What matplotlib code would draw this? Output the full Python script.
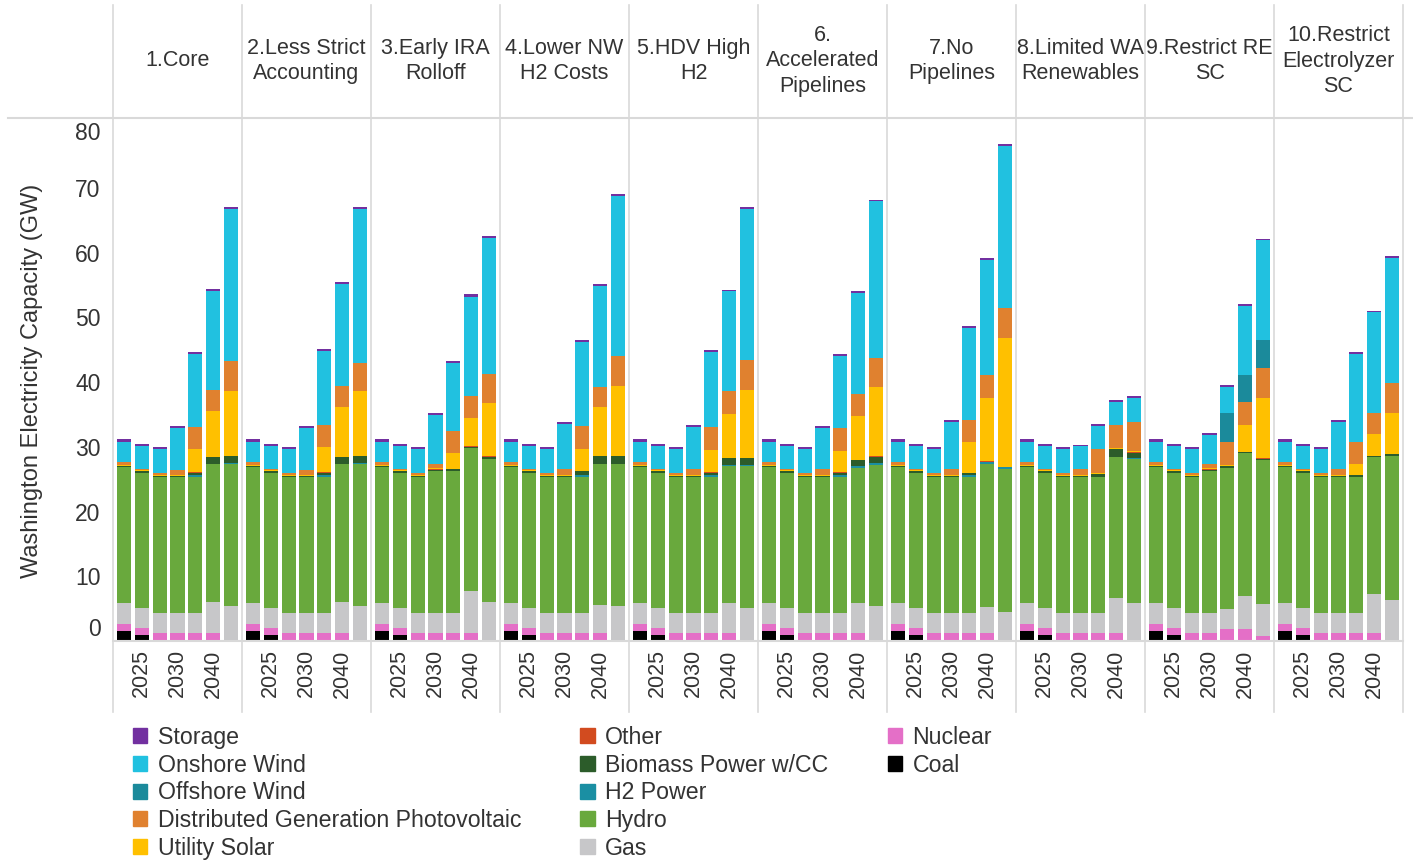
import matplotlib
matplotlib.use('Agg')
import matplotlib.pyplot as plt
from matplotlib.patches import Rectangle
from matplotlib.lines import Line2D
from matplotlib.transforms import ScaledTranslation
import numpy as np

plt.rcParams['font.family'] = ['Liberation Sans', 'DejaVu Sans']

scenarios = ['1.Core', '2.Less Strict\nAccounting', '3.Early IRA\nRolloff', '4.Lower NW\nH2 Costs',
             '5.HDV High\nH2', '6.\nAccelerated\nPipelines', '7.No\nPipelines',
             '8.Limited WA\nRenewables', '9.Restrict RE\nSC', '10.Restrict\nElectrolyzer\nSC']
year_labels = ['', '2025', '', '2030', '', '2040', '']

# capacity in GW, one row per scenario, one value per year (bottom of stack first)
coal = [
    [1.5, 0.9, 0, 0, 0, 0, 0],
    [1.5, 0.9, 0, 0, 0, 0, 0],
    [1.5, 0.9, 0, 0, 0, 0, 0],
    [1.5, 0.9, 0, 0, 0, 0, 0],
    [1.5, 0.9, 0, 0, 0, 0, 0],
    [1.5, 0.9, 0, 0, 0, 0, 0],
    [1.5, 0.9, 0, 0, 0, 0, 0],
    [1.5, 0.9, 0, 0, 0, 0, 0],
    [1.5, 0.9, 0, 0, 0, 0, 0],
    [1.5, 0.9, 0, 0, 0, 0, 0],
]
nuclear = [
    [1.1, 1.1, 1.3, 1.3, 1.3, 1.3, 0],
    [1.1, 1.1, 1.3, 1.3, 1.3, 1.3, 0],
    [1.1, 1.1, 1.3, 1.3, 1.3, 1.3, 0],
    [1.1, 1.1, 1.3, 1.3, 1.3, 1.3, 0],
    [1.1, 1.1, 1.3, 1.3, 1.3, 1.3, 0],
    [1.1, 1.1, 1.3, 1.3, 1.3, 1.3, 0],
    [1.1, 1.1, 1.3, 1.3, 1.3, 1.3, 0],
    [1.1, 1.1, 1.3, 1.3, 1.3, 1.3, 0],
    [1.1, 1.1, 1.3, 1.3, 1.8, 1.8, 0.8],
    [1.1, 1.1, 1.3, 1.3, 1.3, 1.3, 0],
]
gas = [
    [3.3, 3.05, 3.1, 3.1, 3.1, 4.8, 5.4],
    [3.3, 3.05, 3.1, 3.1, 3.1, 4.8, 5.4],
    [3.3, 3.05, 3.1, 3.1, 3.1, 6.4, 6.1],
    [3.3, 3.05, 3.1, 3.1, 3.1, 4.3, 5.4],
    [3.3, 3.05, 3.1, 3.1, 3.1, 4.6, 5.05],
    [3.3, 3.05, 3.1, 3.1, 3.1, 4.5, 5.4],
    [3.3, 3.05, 3.1, 3.1, 3.1, 4.0, 4.5],
    [3.3, 3.05, 3.1, 3.1, 3.1, 5.4, 5.9],
    [3.3, 3.05, 3.1, 3.1, 3.1, 5.2, 4.9],
    [3.3, 3.05, 3.1, 3.1, 3.1, 6.0, 6.3],
]
hydro = [
    [21.0, 20.85, 21.0, 21.0, 21.0, 21.2, 22.0],
    [21.0, 20.85, 21.0, 21.0, 21.0, 21.2, 22.0],
    [21.0, 20.85, 21.0, 21.9, 21.9, 22.1, 22.0],
    [21.0, 20.85, 21.0, 21.0, 21.0, 21.7, 21.9],
    [21.0, 20.85, 21.0, 21.0, 21.0, 21.2, 22.05],
    [21.0, 20.85, 21.0, 21.0, 21.0, 21.0, 21.8],
    [21.0, 20.85, 21.0, 21.0, 21.0, 22.0, 22.0],
    [21.0, 20.85, 21.0, 21.0, 21.0, 21.8, 22.2],
    [21.0, 20.85, 21.0, 21.9, 21.9, 22.0, 22.2],
    [21.0, 20.85, 21.0, 21.0, 21.0, 21.1, 22.3],
]
h2_power = [
    [0, 0, 0, 0, 0.2, 0.1, 0.1],
    [0, 0, 0, 0, 0.2, 0.1, 0.1],
    [0, 0, 0, 0, 0, 0, 0],
    [0, 0, 0, 0, 0.2, 0.1, 0.1],
    [0, 0, 0, 0, 0.2, 0.1, 0.1],
    [0, 0, 0, 0, 0.2, 0.3, 0.25],
    [0, 0, 0, 0, 0.3, 0.4, 0.4],
    [0, 0, 0, 0, 0, 0, 0.2],
    [0, 0, 0, 0, 0, 0, 0],
    [0, 0, 0, 0, 0, 0, 0],
]
biomass_cc = [
    [0.1, 0.3, 0.05, 0.05, 0.4, 0.95, 1.1],
    [0.1, 0.3, 0.05, 0.05, 0.4, 0.95, 1.1],
    [0.1, 0.3, 0.05, 0.15, 0.2, 0.2, 0.4],
    [0.1, 0.3, 0.05, 0.05, 0.6, 1.2, 1.2],
    [0.1, 0.3, 0.05, 0.05, 0.4, 1.0, 1.0],
    [0.1, 0.3, 0.05, 0.05, 0.4, 0.8, 1.05],
    [0.1, 0.3, 0.05, 0.05, 0.2, 0, 0],
    [0.1, 0.3, 0.05, 0.05, 0.4, 1.1, 0.8],
    [0.1, 0.3, 0.05, 0.15, 0.25, 0.15, 0.25],
    [0.1, 0.3, 0.05, 0.05, 0.2, 0.2, 0.25],
]
other = [
    [0.05, 0.05, 0.05, 0.05, 0.05, 0.05, 0.05],
    [0.05, 0.05, 0.05, 0.05, 0.05, 0.05, 0.05],
    [0.05, 0.05, 0.05, 0.05, 0.05, 0.05, 0.05],
    [0.05, 0.05, 0.05, 0.05, 0.05, 0.05, 0.05],
    [0.05, 0.05, 0.05, 0.05, 0.05, 0.05, 0.05],
    [0.05, 0.05, 0.05, 0.05, 0.05, 0.05, 0.05],
    [0.05, 0.05, 0.05, 0.05, 0.05, 0.05, 0.05],
    [0.05, 0.05, 0.05, 0.05, 0.05, 0.05, 0.05],
    [0.05, 0.05, 0.05, 0.05, 0.05, 0.05, 0.05],
    [0.05, 0.05, 0.05, 0.05, 0.05, 0.05, 0.05],
]
utility_solar = [
    [0.15, 0.15, 0.2, 0.2, 3.55, 7.1, 9.95],
    [0.15, 0.15, 0.2, 0.2, 3.85, 7.8, 9.95],
    [0.15, 0.15, 0.2, 0.2, 2.45, 4.35, 8.15],
    [0.15, 0.15, 0.2, 0.2, 3.45, 7.45, 10.75],
    [0.15, 0.15, 0.2, 0.2, 3.45, 6.85, 10.55],
    [0.15, 0.15, 0.2, 0.2, 3.25, 6.75, 10.65],
    [0.15, 0.15, 0.2, 0.2, 4.85, 9.85, 19.85],
    [0.15, 0.15, 0.2, 0.2, 0.1, 0.1, 0.25],
    [0.15, 0.15, 0.2, 0.2, 0.1, 4.2, 9.3],
    [0.15, 0.15, 0.2, 0.2, 1.65, 3.35, 6.3],
]
dist_pv = [
    [0.4, 0.25, 0.3, 0.7, 3.5, 3.3, 4.7],
    [0.4, 0.25, 0.3, 0.7, 3.5, 3.2, 4.4],
    [0.4, 0.25, 0.3, 0.7, 3.5, 3.5, 4.5],
    [0.4, 0.25, 0.3, 0.8, 3.5, 3.2, 4.7],
    [0.4, 0.25, 0.3, 0.8, 3.6, 3.6, 4.6],
    [0.4, 0.25, 0.3, 0.8, 3.6, 3.5, 4.5],
    [0.4, 0.25, 0.3, 0.8, 3.4, 3.5, 4.6],
    [0.4, 0.25, 0.3, 0.8, 3.65, 3.65, 4.5],
    [0.4, 0.25, 0.3, 0.7, 3.6, 3.6, 4.7],
    [0.4, 0.25, 0.3, 0.8, 3.5, 3.3, 4.7],
]
offshore_wind = [
    [0, 0, 0, 0, 0, 0, 0],
    [0, 0, 0, 0, 0, 0, 0],
    [0, 0, 0, 0, 0, 0, 0],
    [0, 0, 0, 0, 0, 0, 0],
    [0, 0, 0, 0, 0, 0, 0],
    [0, 0, 0, 0, 0, 0, 0],
    [0, 0, 0, 0, 0, 0, 0],
    [0, 0, 0, 0, 0, 0, 0],
    [0, 0, 0, 0, 4.4, 4.1, 4.3],
    [0, 0, 0, 0, 0, 0, 0],
]
onshore_wind = [
    [3.2, 3.4, 3.6, 6.5, 11.2, 15.2, 23.5],
    [3.2, 3.4, 3.6, 6.5, 11.4, 15.7, 23.8],
    [3.2, 3.4, 3.6, 7.5, 10.5, 15.3, 21.0],
    [3.2, 3.4, 3.6, 7.1, 13.0, 15.5, 24.6],
    [3.2, 3.4, 3.6, 6.6, 11.6, 15.3, 23.4],
    [3.2, 3.4, 3.6, 6.4, 11.2, 15.5, 24.2],
    [3.2, 3.4, 3.6, 7.4, 14.2, 17.8, 25.1],
    [3.2, 3.4, 3.6, 3.55, 3.6, 3.5, 3.6],
    [3.2, 3.4, 3.6, 4.5, 4.1, 10.7, 15.4],
    [3.2, 3.4, 3.6, 7.4, 13.6, 15.5, 19.3],
]
storage = [
    [0.4, 0.35, 0.3, 0.25, 0.3, 0.4, 0.3],
    [0.4, 0.35, 0.3, 0.25, 0.3, 0.35, 0.3],
    [0.4, 0.35, 0.3, 0.3, 0.3, 0.4, 0.3],
    [0.4, 0.35, 0.3, 0.25, 0.3, 0.3, 0.3],
    [0.4, 0.35, 0.3, 0.25, 0.25, 0.3, 0.3],
    [0.4, 0.35, 0.3, 0.25, 0.25, 0.3, 0.3],
    [0.4, 0.35, 0.3, 0.25, 0.25, 0.25, 0.3],
    [0.4, 0.35, 0.3, 0.3, 0.3, 0.3, 0.35],
    [0.4, 0.35, 0.3, 0.25, 0.3, 0.3, 0.25],
    [0.4, 0.35, 0.3, 0.25, 0.3, 0.25, 0.25],
]

stack = [
    ('Coal', coal, '#000000'),
    ('Nuclear', nuclear, '#e46fc7'),
    ('Gas', gas, '#c7c7c9'),
    ('Hydro', hydro, '#69a93d'),
    ('H2 Power', h2_power, '#1a8fa3'),
    ('Biomass Power w/CC', biomass_cc, '#2c5c2a'),
    ('Other', other, '#d24b1f'),
    ('Utility Solar', utility_solar, '#ffc000'),
    ('Distributed Generation Photovoltaic', dist_pv, '#e0812f'),
    ('Offshore Wind', offshore_wind, '#1b8a9b'),
    ('Onshore Wind', onshore_wind, '#21c1e0'),
    ('Storage', storage, '#7230a0'),
]

W, H = 1413, 860
fig = plt.figure(figsize=(W / 100, H / 100), dpi=100)
txt = '#333333'
grid_c = '#d9d9d9'


def fx(px):
    return px / W


def fy(py):
    return 1 - py / H


left, right, top, bottom = 113, 1403, 118, 641
pw = (right - left) / 10
x = np.arange(7)

for i, name in enumerate(scenarios):
    ax = fig.add_axes([fx(left + i * pw), fy(bottom), pw / W, (bottom - top) / H])
    base = np.zeros(7)
    for label, vals, c in stack:
        v = np.array(vals[i], dtype=float)
        ax.bar(x, v, 0.78, bottom=base, color=c, linewidth=0)
        base += v
    ax.set_xlim(-0.59, 6.59)
    ax.set_ylim(0, 80.8)
    for s in ax.spines.values():
        s.set_visible(False)
    ax.set_xticks(x)
    ax.set_xticklabels(year_labels, rotation=90, fontsize=15.5, color=txt)
    ax.tick_params(axis='x', length=0, pad=6)
    if i == 0:
        ax.set_yticks(np.arange(0, 81, 10))
        ax.tick_params(axis='y', length=0, pad=9, labelsize=16.5, labelcolor=txt)
        for lab in ax.get_yticklabels():
            if lab.get_text() == '0':
                lab.set_transform(lab.get_transform() + ScaledTranslation(0, 0.14, fig.dpi_scale_trans))
            if lab.get_text() == '80':
                lab.set_transform(lab.get_transform() + ScaledTranslation(0, -0.08, fig.dpi_scale_trans))
    else:
        ax.set_yticks([])
    fig.text(fx(left + (i + 0.5) * pw), fy(61), name, ha='center', va='center',
             fontsize=15.5, color=txt, linespacing=1.3)

# panel frame lines
fig.add_artist(Line2D([fx(8), fx(W)], [fy(top), fy(top)], color=grid_c, lw=1.5))
fig.add_artist(Line2D([fx(left), fx(right)], [fy(bottom), fy(bottom)], color=grid_c, lw=1.5))
for k in range(11):
    xx = fx(left + k * pw)
    fig.add_artist(Line2D([xx, xx], [fy(5), fy(712)], color=grid_c, lw=1.2))

fig.text(fx(32), fy(381), 'Washington Electricity Capacity (GW)', rotation=90,
         ha='center', va='center', fontsize=17, color=txt)

handles, labels = [], []
for label, vals, c in stack[::-1]:
    handles.append(Rectangle((0, 0), 1, 1, color=c))
    labels.append(label)
for _ in range(3):
    handles.append(Rectangle((0, 0), 1, 1, alpha=0))
    labels.append('')
fig.legend(handles, labels, loc='upper left', bbox_to_anchor=(fx(133), fy(726)), ncol=3,
           frameon=False, fontsize=16.7, handlelength=0.62, handleheight=0.62, handletextpad=0.45,
           labelspacing=0.2, columnspacing=2.55, borderpad=0, borderaxespad=0, labelcolor=txt)

fig.savefig('out.png', dpi=100)
